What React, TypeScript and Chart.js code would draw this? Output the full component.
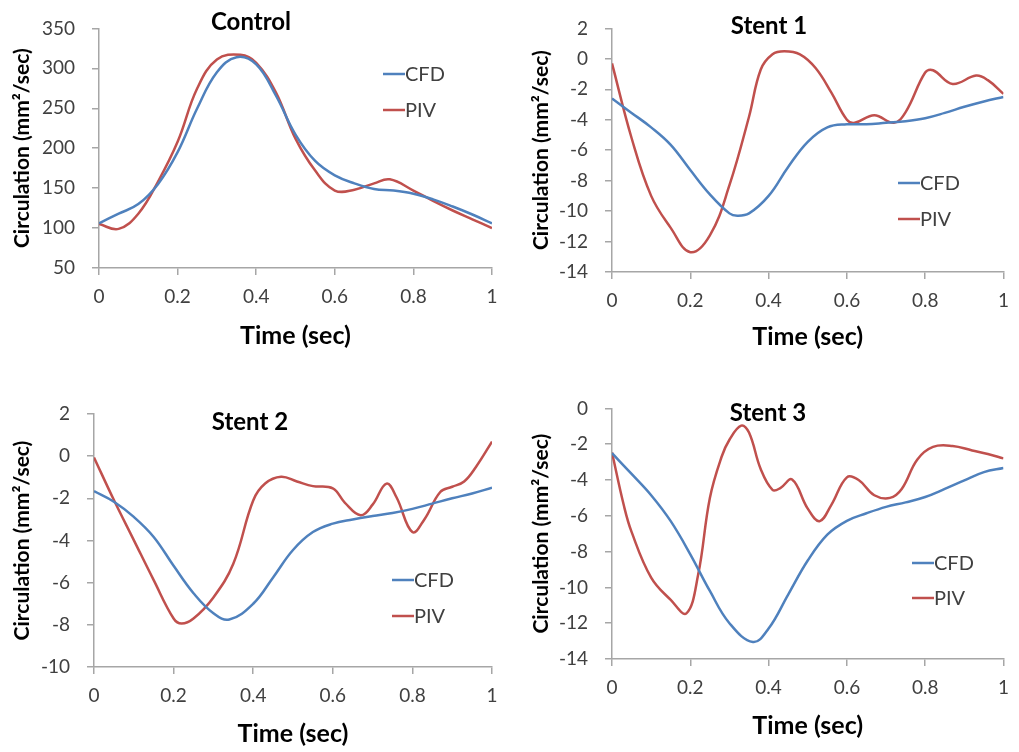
import React, { useEffect, useRef } from "react";
import { Chart, registerables } from "chart.js";
Chart.register(...registerables);

const BLUE = "#4F81BD";
const RED = "#C0504D";
const FONT = "Lato";

// x ticks
const xTickValues = [0, 0.2, 0.4, 0.6, 0.8, 1];

// Control
const controlCfdT = [0, 0.05, 0.1, 0.15, 0.2, 0.25, 0.3, 0.35, 0.4, 0.45, 0.5, 0.55, 0.6, 0.65, 0.7, 0.75, 0.8, 0.85, 0.9, 0.95, 1];
const controlCfdV = [106, 118, 130, 155, 195, 250, 295, 314, 305, 266, 217, 184, 166, 156, 149, 147, 143, 136, 127, 117, 106];
const controlPivT = [0, 0.05, 0.1, 0.15, 0.2, 0.25, 0.3, 0.36, 0.4, 0.45, 0.5, 0.55, 0.6, 0.65, 0.7, 0.74, 0.8, 0.85, 0.9, 0.95, 1];
const controlPivV = [105, 99, 118, 158, 208, 275, 311, 317, 307, 270, 212, 172, 147, 148, 156, 161, 147, 134, 122, 111, 100];

// Stent 1
const stent1CfdT = [0, 0.05, 0.1, 0.15, 0.2, 0.25, 0.3, 0.32, 0.35, 0.4, 0.45, 0.5, 0.55, 0.6, 0.65, 0.7, 0.75, 0.8, 0.85, 0.9, 0.95, 1];
const stent1CfdV = [-2.6, -3.55, -4.5, -5.65, -7.3, -8.9, -10.15, -10.3, -10.15, -9.0, -7.1, -5.45, -4.5, -4.3, -4.3, -4.2, -4.1, -3.9, -3.55, -3.15, -2.8, -2.5];
const stent1PivT = [0, 0.05, 0.1, 0.15, 0.2, 0.25, 0.3, 0.35, 0.38, 0.41, 0.44, 0.48, 0.52, 0.56, 0.6, 0.62, 0.67, 0.72, 0.75, 0.8, 0.82, 0.87, 0.93, 0.96, 1];
const stent1PivV = [-0.3, -5.2, -9.0, -11.1, -12.7, -11.6, -8.3, -3.8, -0.7, 0.3, 0.5, 0.3, -0.6, -2.2, -4.0, -4.2, -3.7, -4.2, -3.5, -0.9, -0.75, -1.65, -1.1, -1.4, -2.3];

// Stent 2
const stent2CfdT = [0, 0.05, 0.1, 0.15, 0.2, 0.25, 0.3, 0.34, 0.4, 0.45, 0.5, 0.55, 0.6, 0.65, 0.7, 0.75, 0.8, 0.85, 0.9, 0.95, 1];
const stent2CfdV = [-1.66, -2.16, -2.88, -3.83, -5.2, -6.5, -7.45, -7.75, -7.0, -5.75, -4.45, -3.6, -3.2, -3.0, -2.84, -2.7, -2.5, -2.25, -2.0, -1.77, -1.5];
const stent2PivT = [0, 0.05, 0.1, 0.15, 0.2, 0.22, 0.25, 0.3, 0.35, 0.4, 0.43, 0.47, 0.51, 0.55, 0.6, 0.63, 0.67, 0.7, 0.735, 0.76, 0.8, 0.83, 0.87, 0.9, 0.93, 0.96, 1];
const stent2PivV = [-0.06, -2.08, -3.98, -5.88, -7.7, -7.94, -7.7, -6.7, -5.1, -2.1, -1.3, -0.98, -1.2, -1.42, -1.53, -2.2, -2.8, -2.3, -1.3, -1.95, -3.6, -3.0, -1.7, -1.45, -1.2, -0.5, 0.69];

// Stent 3
const stent3CfdT = [0, 0.05, 0.1, 0.15, 0.2, 0.25, 0.3, 0.36, 0.4, 0.45, 0.5, 0.55, 0.6, 0.65, 0.7, 0.75, 0.8, 0.85, 0.9, 0.95, 1];
const stent3CfdV = [-2.5, -3.66, -4.85, -6.3, -8.15, -10.2, -12.0, -13.05, -12.3, -10.4, -8.5, -7.05, -6.28, -5.86, -5.5, -5.25, -4.95, -4.5, -4.02, -3.56, -3.33];
const stent3PivT = [0, 0.03, 0.05, 0.1, 0.15, 0.19, 0.22, 0.25, 0.28, 0.3, 0.33, 0.35, 0.38, 0.41, 0.43, 0.46, 0.5, 0.53, 0.56, 0.6, 0.63, 0.67, 0.71, 0.74, 0.78, 0.82, 0.87, 0.92, 0.96, 1];
const stent3PivV = [-2.46, -5.4, -6.9, -9.45, -10.7, -11.45, -9.3, -5.0, -2.7, -1.75, -0.96, -1.35, -3.4, -4.55, -4.45, -3.97, -5.6, -6.3, -5.4, -3.85, -4.0, -4.85, -5.0, -4.5, -2.85, -2.15, -2.1, -2.35, -2.55, -2.79];

const seriesNames = ["CFD", "PIV"];

type PanelCfg = {
  title: string;
  cfdT: number[]; cfdV: number[]; pivT: number[]; pivV: number[];
  yMin: number; yMax: number; yStep: number;
  left: number; top: number; width: number; height: number;
  padTop: number; padRight: number; yWidth: number; xHeight: number;
  yTitlePad: number; xTitlePad: number;
  titleX: number; titleY: number;
  legX: number; legY1: number; legY2: number;
};

const panels: PanelCfg[] = [
  { title: "Control", cfdT: controlCfdT, cfdV: controlCfdV, pivT: controlPivT, pivV: controlPivV,
    yMin: 50, yMax: 350, yStep: 50,
    left: 0, top: 0, width: 510, height: 370, padTop: 15, padRight: 18, yWidth: 99, xHeight: 102,
    yTitlePad: 10, xTitlePad: 19, titleX: 251, titleY: 22, legX: 383, legY1: 74, legY2: 110 },
  { title: "Stent 1", cfdT: stent1CfdT, cfdV: stent1CfdV, pivT: stent1PivT, pivV: stent1PivV,
    yMin: -14, yMax: 2, yStep: 2,
    left: 510, top: 0, width: 509, height: 370, padTop: 19, padRight: 9, yWidth: 102, xHeight: 98,
    yTitlePad: 19, xTitlePad: 18, titleX: 259, titleY: 26, legX: 388, legY1: 183, legY2: 219 },
  { title: "Stent 2", cfdT: stent2CfdT, cfdV: stent2CfdV, pivT: stent2PivT, pivV: stent2PivV,
    yMin: -10, yMax: 2, yStep: 2,
    left: 0, top: 380, width: 510, height: 372, padTop: 34, padRight: 18, yWidth: 94, xHeight: 85,
    yTitlePad: 10, xTitlePad: 3, titleX: 250, titleY: 42, legX: 392, legY1: 200, legY2: 236 },
  { title: "Stent 3", cfdT: stent3CfdT, cfdV: stent3CfdV, pivT: stent3PivT, pivV: stent3PivV,
    yMin: -14, yMax: 0, yStep: 2,
    left: 510, top: 380, width: 509, height: 372, padTop: 25, padRight: 9, yWidth: 102, xHeight: 93,
    yTitlePad: 19, xTitlePad: 11, titleX: 258, titleY: 33, legX: 402, legY1: 183, legY2: 218 },
];

function toXY(t: number[], v: number[]) {
  return t.map((x, i) => ({ x, y: v[i] }));
}

function Panel({ p }: { p: PanelCfg }) {
  const ref = useRef<HTMLCanvasElement>(null);
  useEffect(() => {
    if (!ref.current) return;
    const overlay = {
      id: "overlay",
      afterDraw(chart: any) {
        const ctx = chart.ctx;
        ctx.save();
        ctx.fillStyle = "#000";
        ctx.textAlign = "center";
        ctx.textBaseline = "middle";
        ctx.font = `bold 24px ${FONT}`;
        ctx.fillText(p.title, p.titleX, p.titleY);
        const cols = [BLUE, RED];
        const ys = [p.legY1, p.legY2];
        ctx.font = `20px ${FONT}`;
        ctx.textAlign = "left";
        for (let i = 0; i < 2; i++) {
          ctx.strokeStyle = cols[i];
          ctx.lineWidth = 2.5;
          ctx.beginPath();
          ctx.moveTo(p.legX, ys[i]);
          ctx.lineTo(p.legX + 22, ys[i]);
          ctx.stroke();
          ctx.fillStyle = "#404040";
          ctx.fillText(seriesNames[i], p.legX + 22, ys[i] + 1);
        }
        ctx.restore();
      },
    };
    const chart = new Chart(ref.current, {
      type: "line",
      data: {
        datasets: [
          { label: seriesNames[0], data: toXY(p.cfdT, p.cfdV), borderColor: BLUE, borderWidth: 2.5, pointRadius: 0, tension: 0.4, fill: false },
          { label: seriesNames[1], data: toXY(p.pivT, p.pivV), borderColor: RED, borderWidth: 2.5, pointRadius: 0, tension: 0.4, fill: false },
        ],
      },
      options: {
        animation: false,
        responsive: false,
        devicePixelRatio: 1,
        layout: { padding: { top: p.padTop, right: p.padRight, left: 0, bottom: 0 } },
        plugins: { legend: { display: false }, tooltip: { enabled: false }, title: { display: false } },
        scales: {
          x: {
            type: "linear",
            min: 0, max: 1,
            afterBuildTicks: (s: any) => { s.ticks = xTickValues.map((v) => ({ value: v })); },
            afterFit: (s: any) => { s.height = p.xHeight; },
            border: { color: "#A6A6A6", width: 1.5 },
            grid: { drawOnChartArea: false, color: "#A6A6A6", lineWidth: 1.5, tickLength: 7 },
            ticks: {
              color: "#404040", font: { family: FONT, size: 19 }, padding: 10, maxRotation: 0,
              callback: (v: any) => String(Math.round(Number(v) * 10) / 10),
            },
            title: { display: true, text: "Time (sec)", color: "#000", font: { family: FONT, size: 25, weight: "bold" }, padding: { top: 0, bottom: p.xTitlePad } },
          },
          y: {
            min: p.yMin, max: p.yMax,
            afterFit: (s: any) => { s.width = p.yWidth; },
            border: { color: "#A6A6A6", width: 1.5 },
            grid: { drawOnChartArea: false, color: "#A6A6A6", lineWidth: 1.5, tickLength: 7 },
            ticks: { stepSize: p.yStep, color: "#404040", font: { family: FONT, size: 19 }, padding: 17 },
            title: { display: true, text: "Circulation (mm²/sec)", color: "#000", font: { family: FONT, size: 21, weight: "bold" }, padding: { top: p.yTitlePad, bottom: 0 } },
          },
        },
      },
      plugins: [overlay],
    } as any);
    return () => chart.destroy();
  }, [p]);
  return (
    <canvas
      ref={ref}
      width={p.width}
      height={p.height}
      style={{ position: "absolute", left: p.left, top: p.top, width: p.width, height: p.height }}
    />
  );
}

export default function App() {
  return (
    <div style={{ position: "absolute", left: 0, top: 0, width: 1019, height: 752, background: "#fff" }}>
      {panels.map((p, i) => (
        <Panel key={i} p={p} />
      ))}
    </div>
  );
}
